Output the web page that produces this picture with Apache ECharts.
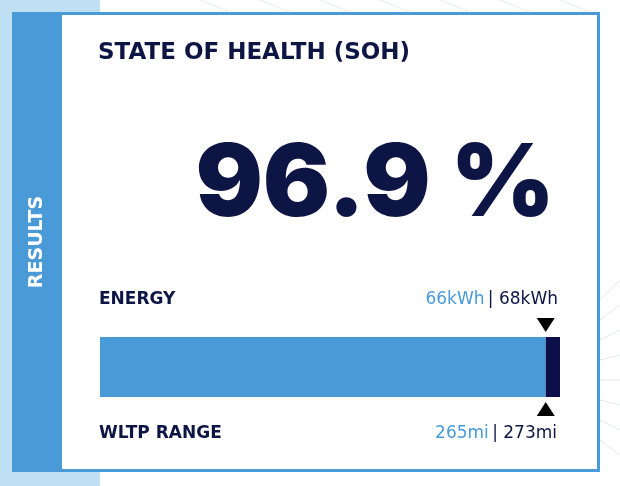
<!DOCTYPE html>
<html><head><meta charset="utf-8">
<script src="https://cdn.jsdelivr.net/npm/echarts@6/dist/echarts.min.js"></script>
<style>html,body{margin:0;padding:0;background:#fff}#c{width:620px;height:486px}</style>
</head><body><div id="c"></div>
<script>
const categories = ['SOH'];
const sohValue = [96.9];
const lossValue = [3.1];
const energyNow = '66kWh', energyNew = '68kWh';
const rangeNow = '265mi', rangeNew = '273mi';
const title = 'STATE OF HEALTH (SOH)';
const bigText = '96.9 %';

const chart = echarts.init(document.getElementById('c'));
const lines = [];
for (let i = 0; i < 8; i++) {
  lines.push({type:'line', silent:true, shape:{x1:200+i*60, y1:0, x2:230+i*60, y2:12}, style:{stroke:'#e3e9ef', lineWidth:1}});
  lines.push({type:'line', silent:true, shape:{x1:600, y1:300+i*20, x2:620, y2:280+i*25}, style:{stroke:'#e3e9ef', lineWidth:1}});
}
const lab = '17px "DejaVu Sans", sans-serif';
chart.setOption({
  animation:false,
  backgroundColor:'#ffffff',
  graphic:[
    {type:'rect', silent:true, z:-10, shape:{x:0,y:0,width:100,height:486}, style:{fill:'#bfe0f3'}},
    ...lines,
    {type:'rect', silent:true, z:-5, shape:{x:12,y:12,width:588,height:460}, style:{fill:'#4a9ad8'}},
    {type:'rect', silent:true, z:-4, shape:{x:62,y:15,width:535,height:454}, style:{fill:'#ffffff'}},
    {type:'text', silent:true, x:37, y:242, rotation:Math.PI/2, style:{text:'RESULTS', fill:'#ffffff', font:'bold 19px "DejaVu Sans", sans-serif', textAlign:'center', textVerticalAlign:'middle', letterSpacing:3}},
    {type:'text', silent:true, x:98, y:53, style:{text:title, fill:'#0d1545', font:'bold 23px "DejaVu Sans", sans-serif', textVerticalAlign:'middle'}},
    {type:'text', silent:true, x:555, y:186, style:{text:bigText, fill:'#0d1545', font:'900 100px Inter, "Liberation Sans"', textAlign:'right', textVerticalAlign:'middle'}},
    {type:'text', silent:true, x:99, y:300, style:{text:'ENERGY', fill:'#0d1545', font:'bold '+lab, textVerticalAlign:'middle'}},
    {type:'text', silent:true, x:99, y:434, style:{text:'WLTP RANGE', fill:'#0d1545', font:'bold '+lab, textVerticalAlign:'middle'}},
    {type:'text', silent:true, x:558, y:300, style:{text:'{a|'+energyNow+'} {b|| '+energyNew+'}', textAlign:'right', textVerticalAlign:'middle', rich:{a:{fill:'#4a9ad8',font:lab},b:{fill:'#0d1545',font:lab}}}},
    {type:'text', silent:true, x:557, y:434, style:{text:'{a|'+rangeNow+'} {b|| '+rangeNew+'}', textAlign:'right', textVerticalAlign:'middle', rich:{a:{fill:'#4a9ad8',font:lab},b:{fill:'#0d1545',font:lab}}}}
  ],
  grid:{left:100, right:60, top:337, height:60},
  xAxis:{type:'value', min:0, max:100, show:false},
  yAxis:{type:'category', data:categories, show:false},
  series:[
    {type:'bar', stack:'s', data:sohValue, barWidth:60, itemStyle:{color:'#4a9ad8'},
     markPoint:{symbol:'triangle', symbolSize:[18,14], itemStyle:{color:'#000'}, label:{show:false},
       data:[{coord:[sohValue[0], 0], symbolRotate:180, symbolOffset:[0,-42]},{coord:[sohValue[0], 0], symbolOffset:[0,42]}]}},
    {type:'bar', stack:'s', data:lossValue, barWidth:60, itemStyle:{color:'#0b0f4a'}}
  ]
});
</script></body></html>
